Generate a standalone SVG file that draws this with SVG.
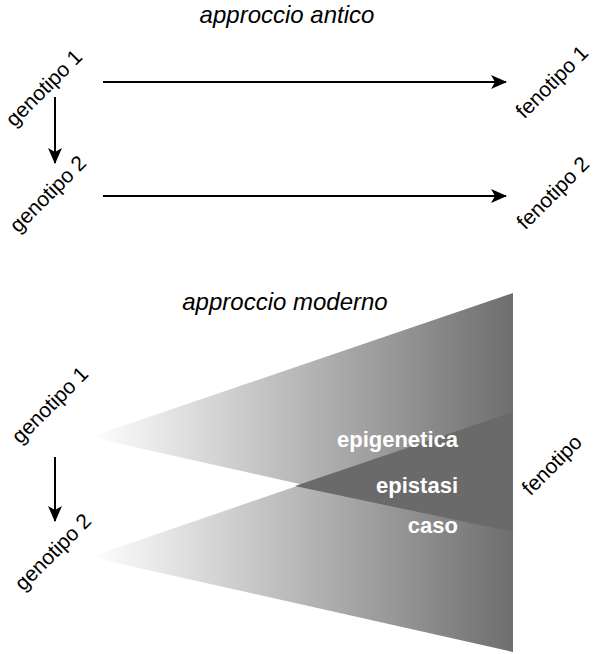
<svg xmlns="http://www.w3.org/2000/svg" width="593" height="654" viewBox="0 0 593 654">
<defs>
<style>
.t{font-family:"Liberation Sans",Arial,sans-serif;fill:#000;}
.lbl{font-size:21px;text-anchor:middle;}
.title{font-size:24px;font-style:italic;text-anchor:middle;}
.w{font-family:"Liberation Sans",Arial,sans-serif;font-size:22px;font-weight:bold;fill:#fff;text-anchor:end;}
.conn{stroke:#000;stroke-width:2;fill:none;marker-end:url(#arr);}
</style>
<marker id="arr" viewBox="0 0 16 14" refX="15" refY="7" markerWidth="16" markerHeight="14" markerUnits="userSpaceOnUse" orient="auto">
<path d="M0,0 L16,7 L0,14 L4,7 Z" fill="#000"/>
</marker>
<linearGradient id="g" gradientUnits="userSpaceOnUse" x1="90" y1="0" x2="513" y2="0">
<stop offset="0" stop-color="#ffffff"/>
<stop offset="1" stop-color="#6e6e6e"/>
</linearGradient>
</defs>
<rect width="593" height="654" fill="#fff"/>
<g id="tri1"><polygon points="90,437 513,293 513,532" fill="url(#g)"/></g>
<g id="tri2"><polygon points="90,557 513,412 513,652" fill="url(#g)"/></g>
<g id="overlap"><polygon points="295,486 513,412 513,532" fill="#6a6a6a"/></g>
<g id="connectors">
<line class="conn" x1="103" y1="82" x2="506" y2="82"/>
<line class="conn" x1="103" y1="196" x2="506" y2="196"/>
<line class="conn" x1="55" y1="97" x2="55" y2="163"/>
<line class="conn" x1="55" y1="457" x2="55" y2="521"/>
</g>
<g id="title1"><text class="t title" x="287" y="23">approccio antico</text></g>
<g id="title2"><text class="t title" x="285" y="310">approccio moderno</text></g>
<g id="geno1a"><text class="t lbl" x="44" y="95" transform="rotate(-45 44 88)">genotipo 1</text></g>
<g id="geno2a"><text class="t lbl" x="48" y="201" transform="rotate(-45 48 194)">genotipo 2</text></g>
<g id="feno1"><text class="t lbl" x="552" y="89" transform="rotate(-45 552 82)">fenotipo 1</text></g>
<g id="feno2"><text class="t lbl" x="553" y="200" transform="rotate(-45 553 193)">fenotipo 2</text></g>
<g id="geno1b"><text class="t lbl" x="50" y="412" transform="rotate(-45 50 405)">genotipo 1</text></g>
<g id="geno2b"><text class="t lbl" x="53" y="559" transform="rotate(-45 53 552)">genotipo 2</text></g>
<g id="feno"><text class="t lbl" x="552" y="472" transform="rotate(-45 552 465)">fenotipo</text></g>
<g id="labels">
<text class="w" x="458" y="447">epigenetica</text>
<text class="w" x="458" y="493">epistasi</text>
<text class="w" x="458" y="533">caso</text>
</g>
</svg>
